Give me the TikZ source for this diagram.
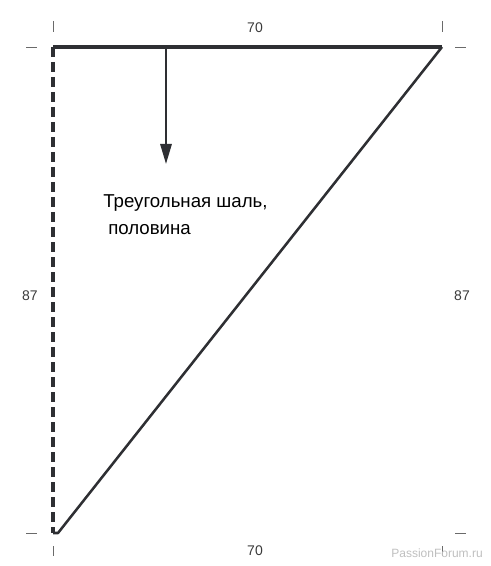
\documentclass[tikz,border=0pt]{standalone}
\usepackage{fontspec}
\setmainfont{Liberation Sans}
\usetikzlibrary{arrows.meta}
\definecolor{lineGray}{HTML}{2E2F33}
\definecolor{tickGray}{HTML}{6A6A6A}
\definecolor{textGray}{HTML}{3A3A3A}

\begin{document}
\begin{tikzpicture}[x = 0.75pt, y = -0.75pt]
\tikzstyle{edgeStyle} = [draw = lineGray, line width = 1.9pt, line join = round]
\tikzstyle{dashStyle} = [draw = lineGray, line width = 2.3pt, dash pattern = on 7.5pt off 3.75pt]
\tikzstyle{tickStyle} = [draw = tickGray, line width = 0.7pt]
\tikzstyle{sizeStyle} = [text = textGray, font = \fontsize{10.5}{12}\selectfont, inner sep = 0pt]
\tikzstyle{titleStyle} = [text = black, font = \fontsize{14}{16}\selectfont, inner sep = 0pt, anchor = base west]
\useasboundingbox (0,0) rectangle (490,566);
% corners
\coordinate (v0) at (53,47);
\coordinate (v1) at (442,47);
\coordinate (v2) at (53,533);
\coordinate (v3) at (58,533);
% sides
\draw[dashStyle] (v0) -- (v2);
\draw[edgeStyle, line width = 2.3pt] (v0) -- (v1);
\draw[edgeStyle] (v1) -- (v3) -- (v2);
% arrow
\coordinate (a0) at (166,47);
\coordinate (a1) at (166,164);
\draw[edgeStyle, line width = 1.5pt, -{Triangle[length = 15pt, width = 8.5pt]}] (a0) -- (a1);
% ticks
\foreach \x/\n in {53/l, 442/r} {
  \coordinate (tt\n0) at (\x,21);
  \coordinate (tt\n1) at (\x,32);
  \draw[tickStyle] (tt\n0) -- (tt\n1);
  \coordinate (tb\n0) at (\x,546);
  \coordinate (tb\n1) at (\x,556);
  \draw[tickStyle] (tb\n0) -- (tb\n1);
}
\foreach \y/\n in {47/t, 533/b} {
  \coordinate (hl\n0) at (26,\y);
  \coordinate (hl\n1) at (37,\y);
  \draw[tickStyle] (hl\n0) -- (hl\n1);
  \coordinate (hr\n0) at (455,\y);
  \coordinate (hr\n1) at (466,\y);
  \draw[tickStyle] (hr\n0) -- (hr\n1);
}
% sizes
\node[sizeStyle] (wTop) at (255,28) {70};
\node[sizeStyle] (wBot) at (255,551) {70};
\node[sizeStyle] (hLeft) at (30,296) {87};
\node[sizeStyle] (hRight) at (462,296) {87};
% title
\node[titleStyle] (title1) at (103,208) {Треугольная шаль,};
\node[titleStyle] (title2) at (108,234) {половина};
% watermark
\node[text = gray!50, font = \fontsize{9}{10}\selectfont, inner sep = 0pt] (mark) at (437,553) {PassionForum.ru};
\end{tikzpicture}
\end{document}
